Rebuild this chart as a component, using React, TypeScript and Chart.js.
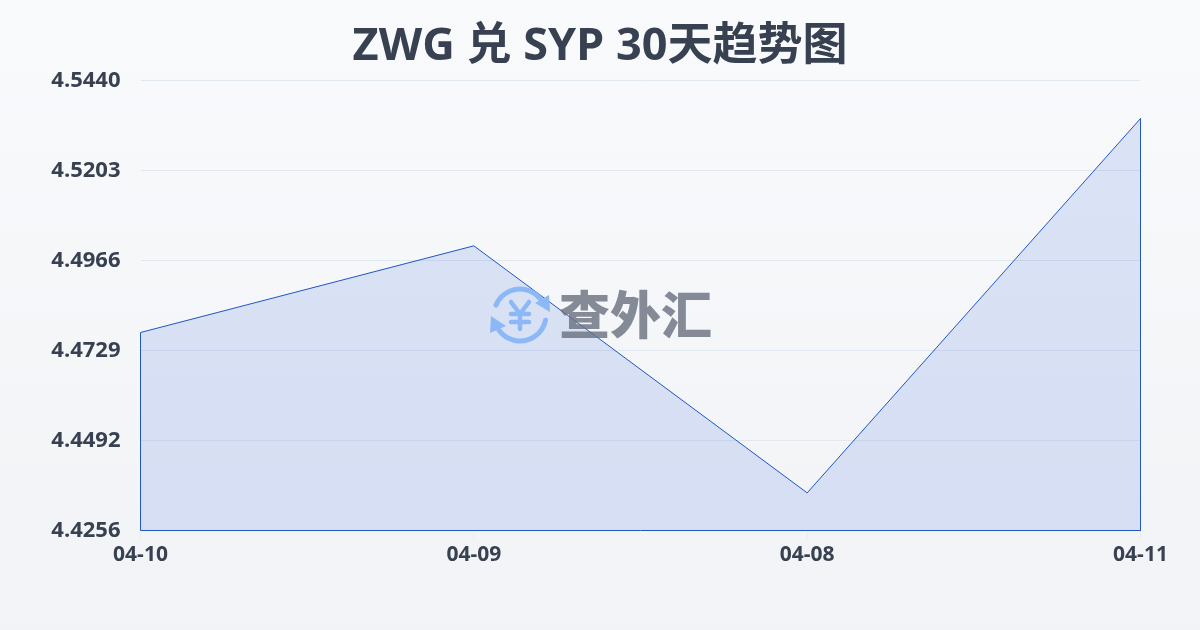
import React, { useEffect, useRef } from "react";
import { Chart, registerables } from "chart.js";

Chart.register(...registerables);

const categories = ["04-10", "04-09", "04-08", "04-11"];
const rates = [4.4777, 4.5005, 4.4355, 4.534];
const yTicks = [4.4256, 4.4492, 4.4729, 4.4966, 4.5203, 4.544];
const yTickLabels = ["4.4256", "4.4492", "4.4729", "4.4966", "4.5203", "4.5440"];
const titleText = "ZWG 兑 SYP 30天趋势图";
const watermarkText = "查外汇";
const FONT = '"Open Sans", "Noto Sans CJK SC", sans-serif';
const CJK = '"Noto Sans CJK SC", sans-serif';
const TEXT = "#374151";
const yMin = yTicks[0];
const yMax = yTicks[yTicks.length - 1];

const backgroundPlugin = {
  id: "pageBackground",
  beforeDraw(chart: any) {
    const { ctx, width, height } = chart;
    const g = ctx.createLinearGradient(0, 0, 0, height);
    g.addColorStop(0, "#f8fafc");
    g.addColorStop(1, "#f1f3f6");
    ctx.save();
    ctx.fillStyle = g;
    ctx.fillRect(0, 0, width, height);
    ctx.restore();
  },
};

const watermarkPlugin = {
  id: "watermark",
  afterDatasetsDraw(chart: any) {
    const { ctx } = chart;
    ctx.save();
    const cx = 520, cy = 315, r = 26;
    ctx.strokeStyle = "#8db8f7";
    ctx.fillStyle = "#8db8f7";
    ctx.lineWidth = 5;
    ctx.lineCap = "round";
    ctx.beginPath();
    ctx.arc(cx, cy, r, -2.75, -0.65);
    ctx.stroke();
    ctx.beginPath();
    ctx.arc(cx, cy, r, 0.2, 2.5);
    ctx.stroke();
    ctx.beginPath();
    ctx.moveTo(549, 295);
    ctx.lineTo(550, 312);
    ctx.lineTo(535, 303);
    ctx.closePath();
    ctx.fill();
    ctx.beginPath();
    ctx.moveTo(491, 316);
    ctx.lineTo(490, 333);
    ctx.lineTo(506, 326);
    ctx.closePath();
    ctx.fill();
    ctx.lineWidth = 4.5;
    ctx.beginPath();
    ctx.moveTo(511, 302);
    ctx.lineTo(520, 314);
    ctx.lineTo(529, 302);
    ctx.moveTo(520, 314);
    ctx.lineTo(520, 329);
    ctx.moveTo(511, 314);
    ctx.lineTo(529, 314);
    ctx.moveTo(511, 322);
    ctx.lineTo(529, 322);
    ctx.stroke();
    ctx.fillStyle = "rgba(107,114,128,0.82)";
    ctx.font = `900 51px ${CJK}`;
    ctx.textAlign = "left";
    ctx.textBaseline = "middle";
    ctx.fillText(watermarkText, 559, 315);
    ctx.restore();
  },
};

const outline = [
  { x: categories[0], y: yMin },
  ...categories.map((c, i) => ({ x: c, y: rates[i] })),
  { x: categories[categories.length - 1], y: yMin },
  { x: categories[0], y: yMin },
];

export default function App() {
  const ref = useRef<HTMLCanvasElement>(null);
  useEffect(() => {
    document.body.style.margin = "0";
    const chart = new Chart(ref.current!, {
      type: "line",
      data: {
        labels: categories,
        datasets: [
          {
            data: rates,
            borderWidth: 0,
            pointRadius: 0,
            tension: 0,
            fill: "start",
            backgroundColor: "rgba(29,78,216,0.13)",
          },
          {
            data: outline as any,
            borderColor: "#2257c4",
            borderWidth: 1,
            pointRadius: 0,
            tension: 0,
            fill: false,
            clip: 2,
          },
        ],
      },
      options: {
        animation: false,
        responsive: false,
        layout: { padding: 0 },
        plugins: {
          legend: { display: false },
          tooltip: { enabled: false },
          title: {
            display: true,
            text: titleText,
            color: TEXT,
            font: { family: FONT, size: 45, weight: "bold" },
            padding: { top: 20.5, bottom: 6 },
          },
        },
        scales: {
          x: {
            type: "category",
            offset: false,
            grid: {
              display: true,
              drawOnChartArea: false,
              drawTicks: true,
              tickLength: 8,
              color: "rgba(226,232,240,0.5)",
            },
            border: { display: false },
            ticks: {
              color: TEXT,
              font: { family: FONT, size: 21, weight: "bold" },
              maxRotation: 0,
              padding: 4,
            },
            afterFit(scale: any) {
              scale.height = 99.5;
            },
          },
          y: {
            min: yMin,
            max: yMax,
            grid: { color: "#e2e8f0", lineWidth: 1, drawTicks: false },
            border: { display: false },
            afterBuildTicks(scale: any) {
              scale.ticks = yTicks.map((value) => ({ value }));
            },
            ticks: {
              color: TEXT,
              font: { family: FONT, size: 22, weight: "bold" },
              padding: 20,
              autoSkip: false,
              callback: (v: any) => yTickLabels[yTicks.indexOf(v)] ?? "",
            },
            afterFit(scale: any) {
              scale.width = 140.5;
            },
          },
          rightGutter: {
            position: "right",
            display: true,
            grid: { display: false },
            border: { display: false },
            ticks: { display: false },
            afterFit(scale: any) {
              scale.width = 59.5;
            },
          },
        },
      },
      plugins: [backgroundPlugin, watermarkPlugin],
    } as any);
    return () => chart.destroy();
  }, []);
  return <canvas ref={ref} width={1200} height={630} style={{ display: "block" }} />;
}
